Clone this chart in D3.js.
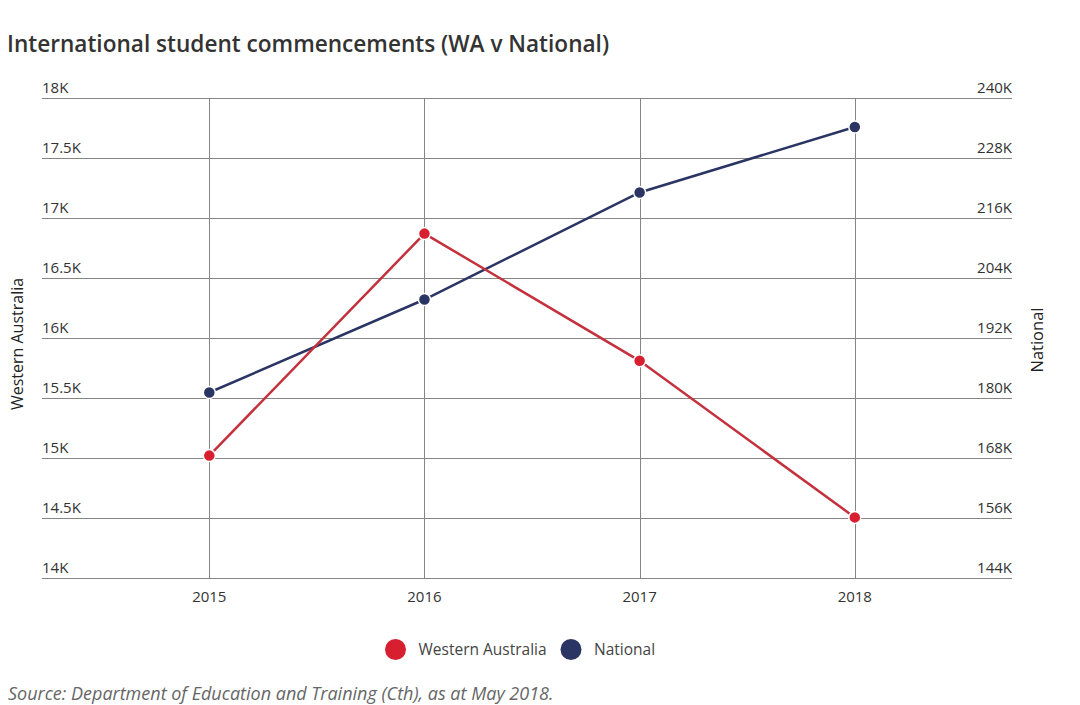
<!DOCTYPE html>
<html>
<head>
<meta charset="utf-8">
<script src="https://cdn.jsdelivr.net/npm/d3@7"></script>
<style>
  body { margin: 0; background: #fff; }
  svg { display: block; }
</style>
</head>
<body>
<script>
const years = ["2015", "2016", "2017", "2018"];
const waValues = [15020, 16870, 15810, 14505];
const nationalValues = [181100, 199700, 221100, 234200];
const waTicks = [14000, 14500, 15000, 15500, 16000, 16500, 17000, 17500, 18000];
const nationalTicks = [144000, 156000, 168000, 180000, 192000, 204000, 216000, 228000, 240000];
const seriesNames = ["Western Australia", "National"];

const width = 1080, height = 705;
const plotLeft = 42, plotRight = 1012, plotTop = 98, plotBottom = 578;
const font = "'Open Sans', sans-serif";
const red = "#d71f30", redLine = "#c4313d", navy = "#2b3563";

const svg = d3.select("body").append("svg")
    .attr("width", width)
    .attr("height", height)
    .attr("font-family", font);

const x = d3.scalePoint().domain(years).range([209.3, 854.8]);
const yWA = d3.scaleLinear().domain([14000, 18000]).range([plotBottom, plotTop]);
const yNat = d3.scaleLinear().domain([144000, 240000]).range([plotBottom, plotTop]);

const fmtK = d => (d / 1000) + "K";

svg.append("text")
    .attr("x", 7)
    .attr("y", 52)
    .attr("font-size", 22.6)
    .attr("font-weight", 600)
    .attr("fill", "#333")
    .text("International student commencements (WA v National)");

// horizontal gridlines
svg.append("g")
    .attr("stroke", "#858585")
    .attr("stroke-width", 1)
  .selectAll("line")
  .data(waTicks)
  .join("line")
    .attr("x1", plotLeft)
    .attr("x2", plotRight)
    .attr("y1", d => Math.round(yWA(d)) + 0.5)
    .attr("y2", d => Math.round(yWA(d)) + 0.5);

// vertical gridlines
svg.append("g")
    .attr("stroke", "#858585")
    .attr("stroke-width", 1)
  .selectAll("line")
  .data(years)
  .join("line")
    .attr("x1", d => Math.round(x(d)) + 0.5)
    .attr("x2", d => Math.round(x(d)) + 0.5)
    .attr("y1", plotTop)
    .attr("y2", plotBottom);

svg.append("g")
    .attr("font-size", 15)
    .attr("fill", "#333")
  .selectAll("text")
  .data(waTicks)
  .join("text")
    .attr("x", plotLeft)
    .attr("y", d => yWA(d) - 5)
    .text(fmtK);

svg.append("g")
    .attr("font-size", 15)
    .attr("fill", "#333")
    .attr("text-anchor", "end")
  .selectAll("text")
  .data(nationalTicks)
  .join("text")
    .attr("x", plotRight)
    .attr("y", d => yNat(d) - 5)
    .text(fmtK);

svg.append("g")
    .attr("font-size", 15)
    .attr("fill", "#333")
    .attr("text-anchor", "middle")
  .selectAll("text")
  .data(years)
  .join("text")
    .attr("x", d => x(d))
    .attr("y", 602)
    .text(d => d);

svg.append("text")
    .attr("transform", `translate(23,${(plotTop + plotBottom) / 2 + 6}) rotate(-90)`)
    .attr("text-anchor", "middle")
    .attr("font-size", 16)
    .attr("fill", "#222")
    .text("Western Australia");

svg.append("text")
    .attr("transform", `translate(1043,${(plotTop + plotBottom) / 2 + 2}) rotate(-90)`)
    .attr("text-anchor", "middle")
    .attr("font-size", 16.5)
    .attr("fill", "#222")
    .text("National");

const waLine = d3.line().x((d, i) => x(years[i])).y(d => yWA(d));
const natLine = d3.line().x((d, i) => x(years[i])).y(d => yNat(d));

svg.append("path")
    .attr("d", natLine(nationalValues))
    .attr("fill", "none")
    .attr("stroke", navy)
    .attr("stroke-width", 2.5);

svg.append("path")
    .attr("d", waLine(waValues))
    .attr("fill", "none")
    .attr("stroke", redLine)
    .attr("stroke-width", 2.5);

svg.append("g")
  .selectAll("circle")
  .data(nationalValues)
  .join("circle")
    .attr("cx", (d, i) => x(years[i]))
    .attr("cy", d => yNat(d))
    .attr("r", 6)
    .attr("fill", navy)
    .attr("stroke", "#fff")
    .attr("stroke-width", 1.5);

svg.append("g")
  .selectAll("circle")
  .data(waValues)
  .join("circle")
    .attr("cx", (d, i) => x(years[i]))
    .attr("cy", d => yWA(d))
    .attr("r", 6)
    .attr("fill", red)
    .attr("stroke", "#fff")
    .attr("stroke-width", 1.5);

// legend
const legend = svg.append("g").attr("font-size", 15.5).attr("fill", "#444");
const legendX = [395.5, 571];
const legendColors = [red, navy];
seriesNames.forEach((name, i) => {
  legend.append("circle")
      .attr("cx", legendX[i])
      .attr("cy", 649.5)
      .attr("r", 10.5)
      .attr("fill", legendColors[i]);
  legend.append("text")
      .attr("x", legendX[i] + 23)
      .attr("y", 655)
      .text(name);
});

svg.append("text")
    .attr("x", 8)
    .attr("y", 700)
    .attr("font-size", 18)
    .attr("font-style", "italic")
    .attr("fill", "#666")
    .text("Source: Department of Education and Training (Cth), as at May 2018.");
</script>
</body>
</html>
